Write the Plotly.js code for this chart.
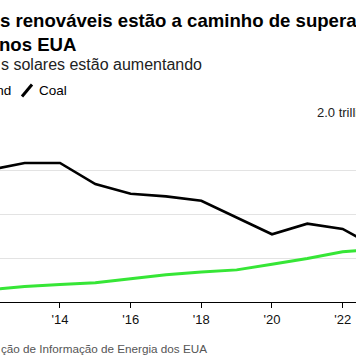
<!DOCTYPE html>
<html>
<head>
<meta charset="utf-8">
<script src="https://cdn.plot.ly/plotly-3.0.1.min.js"></script>
<style>
  html, body { margin: 0; padding: 0; background: #ffffff; overflow: hidden; }
  #chart { width: 356px; height: 364px; }
</style>
</head>
<body>
<div id="chart"></div>
<script>
// ---- data ----
const years = [2012, 2013, 2014, 2015, 2016, 2017, 2018, 2019, 2020, 2021, 2022, 2023];
const coal = [1.50, 1.58, 1.58, 1.34, 1.23, 1.20, 1.15, 0.96, 0.77, 0.89, 0.83, 0.61];
const windSolar = [0.14, 0.175, 0.20, 0.22, 0.265, 0.31, 0.34, 0.365, 0.43, 0.495, 0.57, 0.60];
const seriesNames = ["Solar and wind", "Coal"];
const tickYears = [2014, 2016, 2018, 2020, 2022];
const tickLabels = ["'14", "'16", "'18", "'20", "'22"];
const yGrid = [0, 0.5, 1.0, 1.5, 2.0];
const titleLine1 = "s renováveis estão a caminho de superar o carvão";
const titleLine2 = "nos EUA";
const subtitle = "s solares estão aumentando";
const topTickLabel = "2.0 trillion kWh";
const source = "ção de Informação de Energia dos EUA";

// ---- layout geometry ----
const W = 356, H = 364;
const plotTop = 126, plotBottom = 302;
const FONT = "'Liberation Sans', Arial, Helvetica, sans-serif";
const GREEN = "#36e636";

function px2x(px) { return px / W; }
function py2y(py) { return (plotBottom - py) / (plotBottom - plotTop); }

function label(text, px, py, size, opts) {
  opts = opts || {};
  return {
    xref: 'paper', yref: 'paper',
    x: px2x(px), y: py2y(py),
    xanchor: opts.xanchor || 'left', yanchor: 'middle',
    showarrow: false, text: text,
    font: { family: FONT, size: size, color: opts.color || '#000000', weight: opts.weight || 'normal' }
  };
}

const traces = [
  {
    x: years, y: windSolar, name: seriesNames[0], type: 'scatter', mode: 'lines',
    line: { color: GREEN, width: 3 }, hoverinfo: 'skip'
  },
  {
    x: years, y: coal, name: seriesNames[1], type: 'scatter', mode: 'lines',
    line: { color: '#000000', width: 2.6 }, hoverinfo: 'skip'
  }
];

const layout = {
  width: W, height: H,
  margin: { l: 0, r: 0, t: plotTop, b: H - plotBottom, pad: 0 },
  paper_bgcolor: '#ffffff', plot_bgcolor: '#ffffff',
  showlegend: false,
  font: { family: FONT, color: '#000000' },
  xaxis: {
    range: [2012.302, 2022.378],
    tickmode: 'array', tickvals: tickYears, ticktext: tickLabels,
    ticks: 'outside', ticklen: 5, tickwidth: 1, tickcolor: '#000000',
    showline: true, linecolor: '#000000', linewidth: 1,
    showgrid: false, zeroline: false,
    tickfont: { family: FONT, size: 13, color: '#111111' }
  },
  yaxis: {
    range: [0, 2.0],
    tickmode: 'array', tickvals: yGrid,
    showticklabels: false, ticks: '',
    showgrid: true, gridcolor: '#e3e3e3', gridwidth: 1,
    zeroline: false, showline: false
  },
  shapes: [
    { type: 'line', xref: 'paper', yref: 'paper',
      x0: px2x(-24), y0: py2y(96.5), x1: px2x(-14), y1: py2y(84.5),
      line: { color: GREEN, width: 3 } },
    { type: 'line', xref: 'paper', yref: 'paper',
      x0: px2x(22), y0: py2y(96.5), x1: px2x(32), y1: py2y(84.5),
      line: { color: '#000000', width: 3 } }
  ],
  annotations: [
    label(titleLine1, -2, 20, 18.6, { weight: 'bold' }),
    label(titleLine2, -3, 44.5, 18.6, { weight: 'bold' }),
    label(subtitle, -1, 65, 16, { color: '#222222' }),
    label(seriesNames[0], 13, 90.5, 13.5, { xanchor: 'right' }),
    label(seriesNames[1], 37, 90.5, 13.5),
    label(topTickLabel, 315, 113, 13, { color: '#222222' }),
    label(source, -1, 348, 11.7, { color: '#555555' })
  ]
};

Plotly.newPlot('chart', traces, layout, { staticPlot: true, displayModeBar: false });
</script>
</body>
</html>
